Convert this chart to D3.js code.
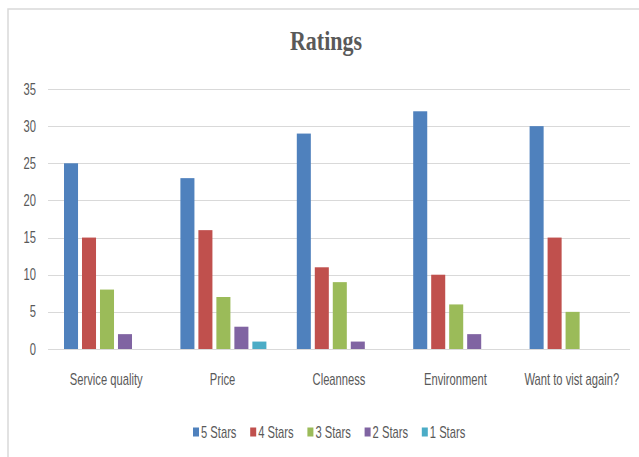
<!DOCTYPE html>
<html>
<head>
<meta charset="utf-8">
<script src="https://cdn.jsdelivr.net/npm/d3@7"></script>
<style>
  body { margin: 0; background: #fff; }
  text { font-family: "Liberation Sans", Arial, sans-serif; font-weight: normal; fill: #595959; }
</style>
</head>
<body>
<div id="chart"></div>
<script>
// data
const categories = ["Service quality", "Price", "Cleanness", "Environment", "Want to vist again?"];
const seriesNames = ["5 Stars", "4 Stars", "3 Stars", "2 Stars", "1 Stars"];
const stars5 = [25, 23, 29, 32, 30];
const stars4 = [15, 16, 11, 10, 15];
const stars3 = [8, 7, 9, 6, 5];
const stars2 = [2, 3, 1, 2, 0];
const stars1 = [0, 1, 0, 0, 0];
const yTicks = [0, 5, 10, 15, 20, 25, 30, 35];

const series = [stars5, stars4, stars3, stars2, stars1];
const colors = ["#4f81bd", "#c0504d", "#9bbb59", "#8064a2", "#4bacc6"];

const width = 639, height = 457;
const margin = {top: 89, right: 9, bottom: 108, left: 48};
const squeeze = 0.7; // the text in the picture is a tall narrow face

const svg = d3.select("#chart")
    .append("svg")
    .attr("width", width)
    .attr("height", height);

// chart frame
svg.append("rect")
    .attr("x", 8).attr("y", 9)
    .attr("width", width + 20).attr("height", height + 20)
    .attr("fill", "none")
    .attr("stroke", "#d9d9d9")
    .attr("stroke-width", 1.5);

// title
svg.append("text")
    .attr("x", 326).attr("y", 50)
    .attr("text-anchor", "middle")
    .attr("textLength", 72)
    .attr("lengthAdjust", "spacingAndGlyphs")
    .style("font-family", "'Liberation Serif', 'DejaVu Serif', serif")
    .style("font-size", "27px")
    .style("font-weight", "bold")
    .text("Ratings");

const x0 = d3.scaleBand()
    .domain(categories)
    .range([margin.left, width - margin.right]);

const x1 = d3.scaleBand()
    .domain(d3.range(series.length))
    .range([0, 86])
    .paddingInner(0.22);

const y = d3.scaleLinear()
    .domain([0, 35])
    .range([height - margin.bottom, margin.top]);

// gridlines
svg.append("g")
    .selectAll("line")
    .data(yTicks)
    .enter()
    .append("line")
    .attr("x1", margin.left)
    .attr("x2", width - margin.right)
    .attr("y1", d => Math.round(y(d)) + 0.5)
    .attr("y2", d => Math.round(y(d)) + 0.5)
    .attr("stroke", "#d9d9d9")
    .attr("stroke-width", 1);

// y tick labels
svg.append("g")
    .selectAll("g")
    .data(yTicks)
    .enter()
    .append("g")
    .attr("transform", d => `translate(36, ${y(d)})`)
    .append("text")
    .attr("transform", `scale(${squeeze}, 1)`)
    .attr("dy", "0.35em")
    .attr("text-anchor", "end")
    .style("font-size", "16px")
    .text(d => d);

// bars
const groups = svg.append("g")
    .selectAll("g")
    .data(categories)
    .enter()
    .append("g")
    .attr("transform", d => `translate(${x0(d) + 16}, 0)`);

groups.selectAll("rect")
    .data((d, i) => series.map((s, k) => ({k: k, v: s[i]})).filter(e => e.v > 0))
    .enter()
    .append("rect")
    .attr("x", d => x1(d.k))
    .attr("width", x1.bandwidth())
    .attr("y", d => y(d.v))
    .attr("height", d => y(0) - y(d.v))
    .attr("fill", d => colors[d.k]);

// category labels
svg.append("g")
    .selectAll("g")
    .data(categories)
    .enter()
    .append("g")
    .attr("transform", d => `translate(${x0(d) + x0.bandwidth() / 2}, 385)`)
    .append("text")
    .attr("transform", `scale(${squeeze}, 1)`)
    .attr("text-anchor", "middle")
    .style("font-size", "16px")
    .text(d => d);

// legend
const legend = svg.append("g")
    .selectAll("g")
    .data(seriesNames)
    .enter()
    .append("g")
    .attr("transform", (d, i) => `translate(${193 + i * 57.2}, 432)`);

legend.append("rect")
    .attr("x", 0).attr("y", -4.5)
    .attr("width", 6).attr("height", 9)
    .attr("fill", (d, i) => colors[i]);

legend.append("text")
    .attr("transform", `translate(8, 0) scale(${squeeze}, 1)`)
    .attr("dy", "0.35em")
    .style("font-size", "16px")
    .text(d => d);
</script>
</body>
</html>
